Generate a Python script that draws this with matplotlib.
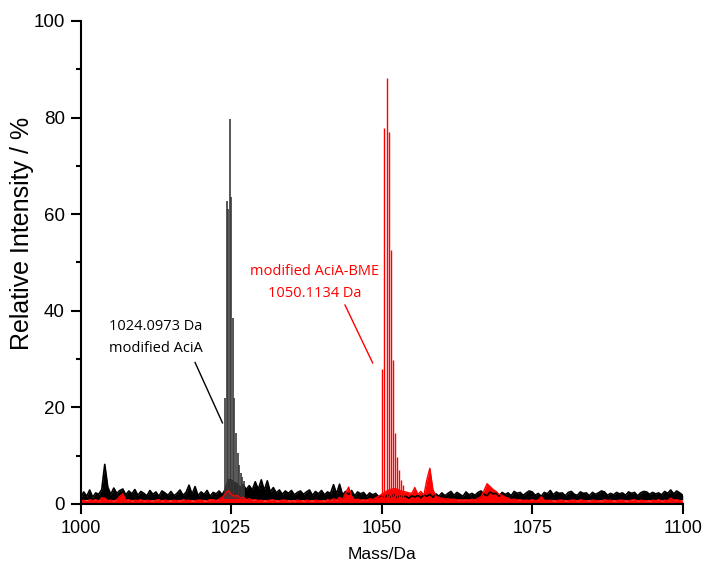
import numpy as np
import matplotlib.pyplot as plt
from matplotlib.ticker import MultipleLocator

# profile traces sampled every 0.5 Da from 1000 to 1100 (one row = 5 Da)
black_trace = [
    1.2, 2.5, 1.6, 2.9, 1.4, 2.3, 2.0, 3.0, 8.2, 3.5,
    2.0, 3.3, 2.2, 2.8, 3.1, 1.9, 2.7, 2.1, 3.0, 1.8,
    2.6, 2.2, 1.7, 2.8, 2.0, 2.5, 1.6, 2.7, 2.3, 1.8,
    2.6, 1.7, 2.2, 2.9, 1.8, 2.4, 3.9, 2.0, 3.6, 1.7,
    2.5, 2.0, 2.8, 1.6, 2.4, 2.1, 2.7, 1.9, 3.0, 5.0,
    5.0, 4.5, 4.2, 3.4, 4.0, 3.0, 3.8, 2.9, 4.6, 3.0,
    5.0, 2.8, 4.8, 2.5, 3.4, 2.3, 2.9, 2.0, 2.7, 2.2,
    2.8, 1.9, 2.4, 2.7, 2.0, 2.5, 2.9, 1.8, 2.6, 2.1,
    2.8, 1.9, 2.5, 2.2, 4.0, 2.1, 4.1, 1.9, 2.6, 2.0,
    2.8, 1.7, 2.5, 2.1, 2.4, 1.6, 2.3, 1.9, 2.2, 1.5,
    1.8, 1.3, 1.9, 1.4, 2.0, 1.3, 1.7, 1.5, 1.6, 1.2,
    1.7, 1.4, 1.8, 1.3, 1.9, 1.6, 2.0, 1.4, 2.1, 1.6,
    2.3, 1.7, 2.2, 2.6, 1.8, 2.4, 2.0, 1.6, 2.5, 1.9,
    2.2, 1.8, 2.4, 2.7, 2.0, 1.7, 2.5, 2.1, 2.2, 1.6,
    2.4, 2.0, 2.3, 1.7, 2.6, 2.2, 2.4, 1.8, 2.3, 2.7,
    2.5, 1.8, 2.2, 1.6, 2.4, 2.1, 2.8, 1.9, 2.5, 2.2,
    2.3, 1.7, 2.4, 2.6, 2.0, 1.8, 2.5, 2.2, 2.3, 1.7,
    2.4, 2.0, 2.3, 2.7, 2.5, 1.8, 2.2, 1.9, 2.4, 2.1,
    2.3, 1.8, 2.5, 2.2, 2.4, 1.7, 2.3, 2.6, 2.5, 2.0,
    2.4, 2.1, 2.3, 1.9, 2.6, 2.2, 2.9, 2.1, 2.7, 2.3,
    1.8,
]
red_trace = [
    0.6, 0.8, 0.5, 0.9, 0.7, 0.9, 0.6, 1.3, 1.2, 0.7,
    0.8, 0.6, 0.9, 1.6, 2.1, 0.8, 0.9, 0.6, 0.8, 0.7,
    0.9, 0.6, 0.8, 0.7, 0.6, 0.8, 0.9, 0.6, 0.8, 0.7,
    0.6, 0.8, 0.7, 0.6, 0.9, 0.7, 0.8, 0.6, 0.7, 0.8,
    0.8, 0.6, 0.7, 0.9, 0.9, 0.7, 1.0, 1.4, 2.0, 2.8,
    2.0, 1.6, 1.8, 1.2, 1.4, 0.9, 1.1, 0.8, 0.9, 0.7,
    0.8, 0.6, 0.7, 0.8, 0.9, 0.6, 0.7, 0.8, 0.8, 0.6,
    0.7, 0.6, 0.8, 0.7, 0.6, 0.8, 0.7, 0.6, 0.8, 0.7,
    0.7, 0.6, 0.9, 0.7, 1.1, 0.8, 1.4, 0.9, 2.2, 3.5,
    1.6, 0.9, 1.0, 0.8, 0.9, 0.8, 1.1, 0.9, 1.3, 1.6,
    2.0, 2.4, 2.8, 3.0, 3.2, 3.1, 2.8, 2.6, 2.5, 2.3,
    2.2, 3.4, 2.0, 2.6, 1.8, 5.0, 7.4, 3.0, 1.6, 1.3,
    1.2, 1.0, 1.1, 0.9, 1.0, 0.8, 0.9, 0.8, 0.9, 0.8,
    1.0, 0.8, 1.2, 1.5, 2.8, 4.2, 3.6, 3.0, 2.6, 2.0,
    1.8, 1.4, 1.2, 0.9, 1.0, 0.8, 0.9, 0.7, 0.8, 0.7,
    0.9, 0.7, 0.8, 1.5, 0.8, 0.7, 0.8, 0.6, 0.7, 0.8,
    0.8, 0.6, 0.7, 0.8, 0.8, 0.6, 0.9, 0.7, 0.7, 0.6,
    0.8, 0.7, 0.7, 0.6, 0.9, 0.7, 0.8, 0.6, 0.7, 0.8,
    0.8, 0.6, 0.7, 0.8, 0.9, 0.6, 0.8, 0.7, 0.7, 0.6,
    0.8, 0.7, 0.9, 0.6, 0.8, 0.7, 1.2, 0.8, 0.9, 0.7,
    0.6,
]

# isotope clusters
black_peak_mass = [1024.05, 1024.30, 1024.55, 1024.80, 1025.05, 1025.30, 1025.55,
                   1025.80, 1026.05, 1026.30, 1026.55, 1026.80, 1027.05]
black_peak_int = [22.0, 62.8, 61.0, 79.8, 63.5, 38.6, 22.0, 14.8, 10.5, 8.0, 6.5, 5.5, 4.8]
red_peak_mass = [1050.05, 1050.43, 1050.83, 1051.16, 1051.50, 1051.83, 1052.16,
                 1052.50, 1052.83, 1053.16, 1053.50]
red_peak_int = [27.9, 77.8, 88.3, 77.0, 52.5, 29.9, 14.8, 9.8, 7.0, 5.0, 4.0]

mass = np.linspace(1000, 1100, len(black_trace))

fig = plt.figure(figsize=(7.12, 5.63), dpi=100)
ax = fig.add_axes([0.1133, 0.1048, 0.8456, 0.8579])

ax.fill_between(mass, 0.9, black_trace, color='black', lw=0)
ax.plot(mass, black_trace, color='black', lw=1.2)
ax.vlines(black_peak_mass, 1.0, black_peak_int, color='#3a3a3a', lw=1.2)
ax.fill_between(mass, 0.2, red_trace, color='#ff0000', lw=0)
ax.plot(mass, red_trace, color='#ff0000', lw=1.0)
ax.vlines(red_peak_mass, 0.5, red_peak_int, color='#ff0000', lw=1.0)

# labels
ax.text(1012.5, 34.5, '1024.0973 Da\nmodified AciA', ha='center', va='center',
        fontsize=10.5, family='Open Sans', color='black', linespacing=1.6)
ax.plot([1019.0, 1023.55], [29.3, 16.8], color='black', lw=1.0)
ax.text(1038.9, 45.8, 'modified AciA-BME\n1050.1134 Da', ha='center', va='center',
        fontsize=10.5, family='Open Sans', color='#ff0000', linespacing=1.6)
ax.plot([1043.9, 1048.5], [41.2, 29.2], color='#ff0000', lw=1.0)

ax.set_xlim(1000, 1100)
ax.set_ylim(0, 100)
ax.xaxis.set_major_locator(MultipleLocator(25))
ax.yaxis.set_major_locator(MultipleLocator(20))
ax.yaxis.set_minor_locator(MultipleLocator(10))
for s in ['top', 'right']:
    ax.spines[s].set_visible(False)
for s in ['left', 'bottom']:
    ax.spines[s].set_linewidth(1.5)
ax.tick_params(which='major', direction='out', length=7, width=1.5, pad=4.5)
ax.tick_params(which='minor', direction='out', length=3.5, width=1.5)
for lab in ax.get_yticklabels():
    lab.set_family('Liberation Sans')
    lab.set_fontsize(13.5)
for lab in ax.get_xticklabels():
    lab.set_family('Liberation Sans')
    lab.set_fontsize(13)

ax.set_xlabel('Mass/Da', fontsize=12.5, family='Liberation Sans', labelpad=7)
ax.set_ylabel('Relative Intensity / %', fontsize=18, family='Liberation Sans')
ax.yaxis.set_label_coords(-0.077, 0.561)

fig.savefig('out.png', dpi=100)
